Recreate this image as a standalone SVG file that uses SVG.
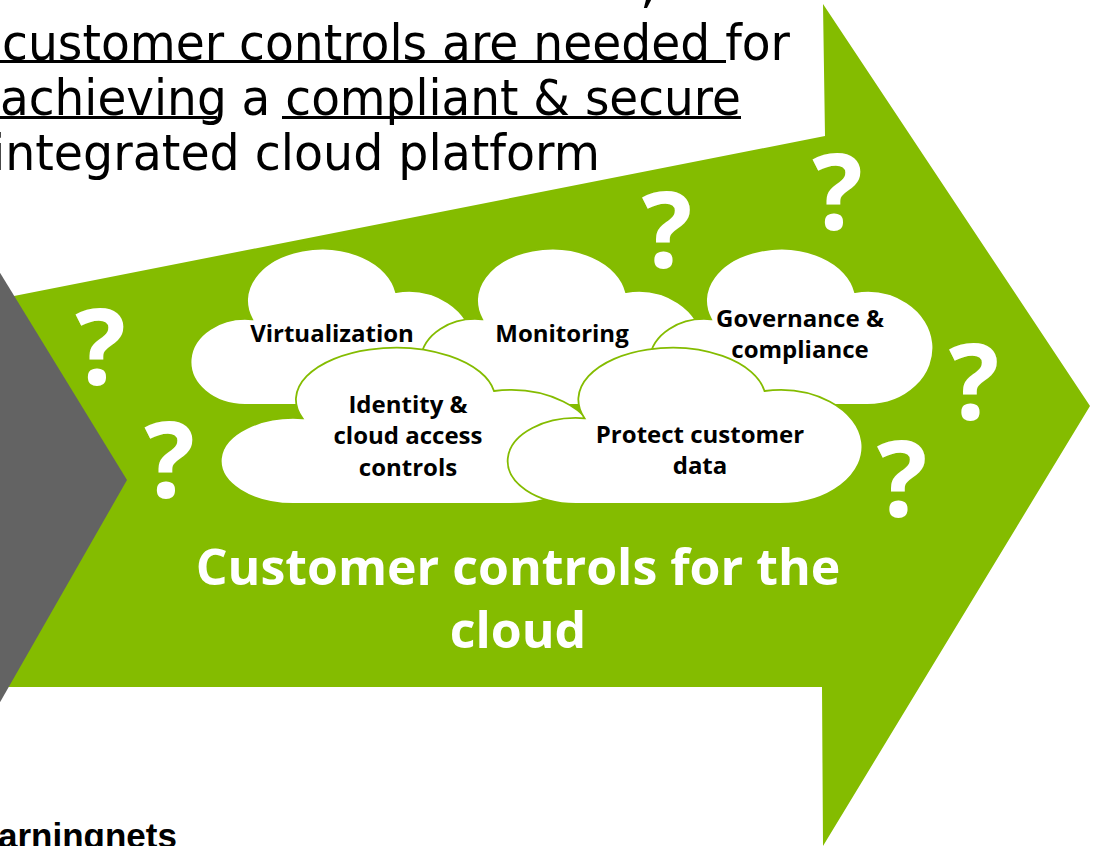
<svg xmlns="http://www.w3.org/2000/svg" width="1099" height="846" viewBox="0 0 1099 846">
<style>
.top{font-family:"DejaVu Sans","Verdana",sans-serif;font-size:50px;fill:#000}
.ul{fill:#000}
.cloud{fill:#fff;stroke:#84BC00;stroke-width:1.8}
.lbl{font-family:"Open Sans","Noto Sans",sans-serif;font-weight:bold;font-size:24px;fill:#000;text-anchor:middle}
.q{font-family:"Open Sans","Noto Sans",sans-serif;font-weight:bold;font-size:106px;fill:#fff;text-anchor:middle}
.title{font-family:"Open Sans","Noto Sans",sans-serif;font-weight:bold;font-size:50px;fill:#fff;text-anchor:middle}
.foot{font-family:"Liberation Sans","Arial",sans-serif;font-weight:bold;font-size:35px;fill:#000}
</style>
<rect width="1099" height="846" fill="#fff"/>
<g id="connectors">
<polygon id="green-arrow" points="14,296 825,136 823,4 1090,406 823,846 822,687 8,687" fill="#84BC00"/>
<polygon id="gray-chevron" points="-1,271 127,480 -1,704" fill="#636363"/>
</g>
<g id="heading">
<text class="top" x="640" y="2">,</text>
<text class="top" x="2" y="60" textLength="788" lengthAdjust="spacingAndGlyphs">customer controls are needed for</text>
<rect class="ul" x="0" y="60" width="726" height="3"/>
<text class="top" x="0" y="115" textLength="741" lengthAdjust="spacingAndGlyphs">achieving a compliant &amp; secure</text>
<rect class="ul" x="0" y="116" width="217" height="3"/>
<rect class="ul" x="282" y="116" width="459" height="3"/>
<text class="top" x="-8" y="170" textLength="608" lengthAdjust="spacingAndGlyphs">integrated cloud platform</text>
</g>
<g id="questions">
<text class="q" x="100.5" y="385">?</text>
<text class="q" x="169.5" y="498">?</text>
<text class="q" x="667" y="268">?</text>
<text class="q" x="837.5" y="230">?</text>
<text class="q" x="974" y="420">?</text>
<text class="q" x="902" y="517">?</text>
</g>
<g id="cloud-virtualization">
<path class="cloud" d="M245,405 A55,43 0 1 1 252,319.3 A75,52 0 1 1 396,292 A66,57 0 1 1 408,405 Z"/>
<text class="lbl" x="332" y="342">Virtualization</text>
</g>
<g id="cloud-monitoring">
<path class="cloud" d="M475,405 A55,43 0 1 1 482,319.3 A75,52 0 1 1 626,292 A66,57 0 1 1 638,405 Z"/>
<text class="lbl" x="562" y="342">Monitoring</text>
</g>
<g id="cloud-governance">
<path class="cloud" d="M704,405 A55,43 0 1 1 711,319.3 A75,52 0 1 1 855,292 A66,57 0 1 1 867,405 Z"/>
<text class="lbl" x="800" y="327">Governance &amp;</text>
<text class="lbl" x="800" y="358">compliance</text>
</g>
<g id="cloud-identity">
<path class="cloud" d="M293.15,504 A73.15,43 0 1 1 302.5,418.3 A99.75,52 0 1 1 494,391 A87.8,57 0 1 1 510,504 Z"/>
<text class="lbl" x="408" y="413">Identity &amp;</text>
<text class="lbl" x="408" y="444">cloud access</text>
<text class="lbl" x="408" y="476">controls</text>
</g>
<g id="cloud-protect">
<path class="cloud" d="M575.75,504 A68.75,43 0 1 1 584.5,418.3 A93.75,52 0 1 1 764.5,391 A82.5,57 0 1 1 779.5,504 Z"/>
<text class="lbl" x="700" y="443">Protect customer</text>
<text class="lbl" x="700" y="474">data</text>
</g>
<g id="title">
<text class="title" x="518" y="585">Customer controls for the</text>
<text class="title" x="518" y="648">cloud</text>
</g>
<text class="foot" x="-2" y="848">arningnets</text>
</svg>
